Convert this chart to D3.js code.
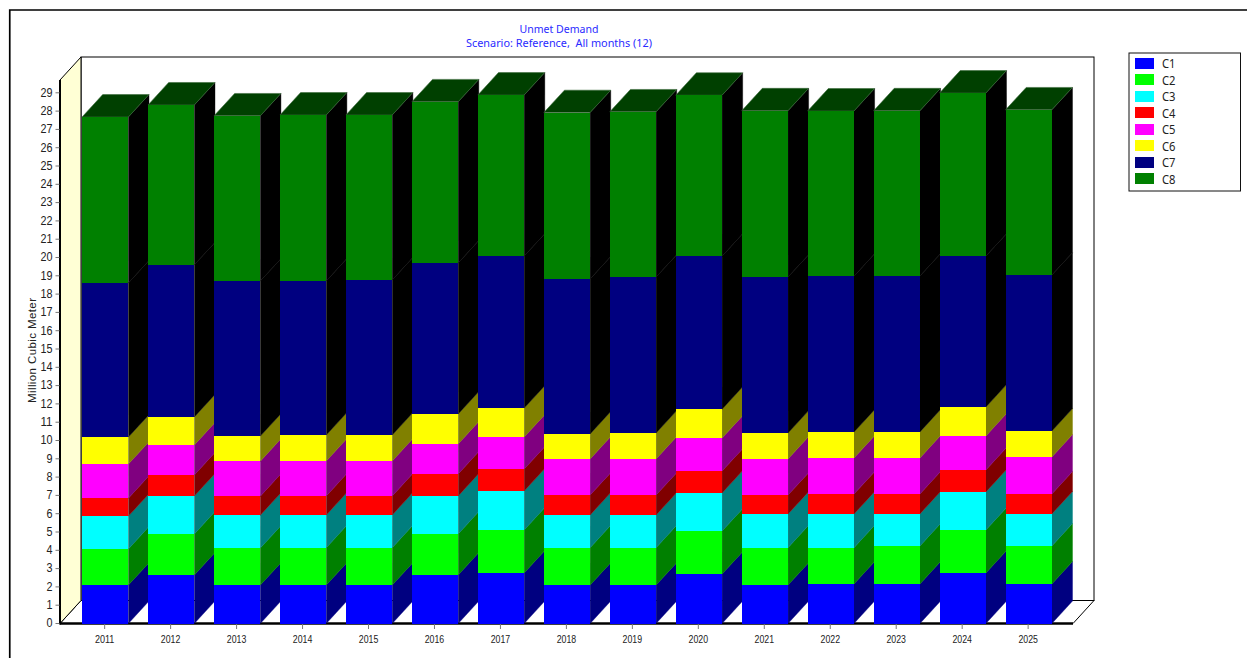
<!DOCTYPE html>
<html>
<head>
<meta charset="utf-8">
<script src="https://cdn.jsdelivr.net/npm/d3@7/dist/d3.min.js"></script>
<style>
html,body{margin:0;padding:0;background:#fff;overflow:hidden}
svg{display:block}
text{fill:#222}
</style>
</head>
<body>
<svg id="chart" width="1247" height="658"></svg>
<script>
const years = ["2011","2012","2013","2014","2015","2016","2017","2018","2019","2020","2021","2022","2023","2024","2025"];
const seriesNames = ["C1","C2","C3","C4","C5","C6","C7","C8"];
const frontColors = ["#0000ff","#00ff00","#00ffff","#ff0000","#ff00ff","#ffff00","#000080","#008000"];
const sideColors = ["#000080","#008000","#008080","#800000","#800080","#808000","#000000","#000000"];
const topColor = "#004000";
const yTicks = d3.range(0, 30);
const C1 = [2.10,2.65,2.10,2.10,2.10,2.65,2.76,2.10,2.10,2.70,2.10,2.16,2.16,2.76,2.16];
const C2 = [1.97,2.24,2.02,2.04,2.04,2.24,2.35,2.04,2.04,2.35,2.04,1.98,2.08,2.35,2.08];
const C3 = [1.80,2.08,1.80,1.79,1.79,2.08,2.13,1.79,1.79,2.08,1.84,1.84,1.75,2.08,1.75];
const C4 = [0.98,1.15,1.04,1.04,1.04,1.20,1.20,1.09,1.09,1.20,1.04,1.09,1.09,1.20,1.09];
const C5 = [1.86,1.64,1.91,1.91,1.91,1.64,1.75,1.97,1.97,1.80,1.97,1.97,1.97,1.86,2.02];
const C6 = [1.48,1.53,1.37,1.42,1.42,1.64,1.58,1.37,1.42,1.58,1.42,1.42,1.42,1.58,1.42];
const C7 = [8.42,8.31,8.47,8.42,8.47,8.25,8.31,8.47,8.52,8.36,8.52,8.52,8.52,8.25,8.52];
const C8 = [9.07,8.74,9.03,9.07,9.02,8.81,8.80,9.09,9.03,8.80,9.09,9.03,9.03,8.91,9.03];
const seriesValues = [C1,C2,C3,C4,C5,C6,C7,C8];

const svg = d3.select("#chart");
const fLeft = 60, fRight = 1073, fTop = 80, fBottom = 623.5, wallDx = 21, wallDy = 23, barDx = 20.6, barDy = 22.4;

const x = d3.scaleBand().domain(years).range([fLeft + 1, fRight]).paddingInner(0.298).paddingOuter(0.32);
const y = d3.scaleLinear().domain([0, 29.7]).range([fBottom, fTop]);
const poly = pts => pts.map(p => p.join(",")).join(" ");

// outer frame
svg.append("path").attr("d", "M9.75,658V10H1247").attr("fill", "none").attr("stroke", "#000").attr("stroke-width", 1.7);

// back wall, floor, left wall
svg.append("rect").attr("x", fLeft + wallDx).attr("y", fTop - wallDy).attr("width", fRight - fLeft).attr("height", fBottom - fTop)
  .attr("fill", "#fff").attr("stroke", "#000").attr("stroke-width", 1);
svg.append("polygon").attr("points", poly([[fLeft, fBottom],[fLeft + wallDx, fBottom - wallDy],[fRight + wallDx, fBottom - wallDy],[fRight, fBottom]]))
  .attr("fill", "#fff").attr("stroke", "#000").attr("stroke-width", 1);
svg.append("polygon").attr("points", poly([[fLeft, fTop],[fLeft + wallDx, fTop - wallDy],[fLeft + wallDx, fBottom - wallDy],[fLeft, fBottom]]))
  .attr("fill", "#ffffd5").attr("stroke", "#000").attr("stroke-width", 1);
svg.append("line").attr("x1", fLeft).attr("x2", fRight).attr("y1", fBottom).attr("y2", fBottom).attr("stroke", "#000").attr("stroke-width", 2.4);

// stacks
const stack = d3.stack().keys(d3.range(seriesNames.length)).value((d, k) => seriesValues[k][d]);
const stacked = stack(d3.range(years.length));
years.forEach((yr, i) => {
  const g = svg.append("g").attr("class", "bar");
  const x0 = x(yr), x1 = x0 + x.bandwidth();
  const segs = stacked.map((s, k) => ({k, a: s[i][0], b: s[i][1]}));
  g.selectAll("polygon.side").data(segs).join("polygon").attr("class", "side")
    .attr("points", d => poly([[x1, y(d.a)],[x1 + barDx, y(d.a) - barDy],[x1 + barDx, y(d.b) - barDy],[x1, y(d.b)]]))
    .attr("fill", d => sideColors[d.k]).attr("stroke", d => sideColors[d.k]).attr("stroke-width", 0.4);
  const last = segs[segs.length - 1];
  g.append("polygon")
    .attr("points", poly([[x0, y(last.b)],[x0 + barDx, y(last.b) - barDy],[x1 + barDx, y(last.b) - barDy],[x1, y(last.b)]]))
    .attr("fill", topColor).attr("stroke", "#3a6a3a").attr("stroke-width", 0.6);
  g.selectAll("rect").data(segs).join("rect")
    .attr("x", x0).attr("width", x.bandwidth())
    .attr("y", d => y(d.b)).attr("height", d => y(d.a) - y(d.b))
    .attr("fill", d => frontColors[d.k]).attr("shape-rendering", "crispEdges");
});

// left edge of the plot
svg.append("line").attr("x1", fLeft).attr("x2", fLeft).attr("y1", fTop).attr("y2", fBottom + 1).attr("stroke", "#000").attr("stroke-width", 2);

// axes
const yAxis = d3.axisLeft(y).tickValues(yTicks).tickSize(4).tickPadding(3).tickFormat(d3.format("d"));
const gy = svg.append("g").attr("transform", `translate(${fLeft - 0.5},-0.5)`).call(yAxis);
gy.select(".domain").remove();
gy.selectAll("line").attr("stroke", "#777");
gy.selectAll("text").attr("font-family", "Liberation Sans").attr("font-size", 12).attr("fill", "#222").attr("textLength", 12).attr("lengthAdjust", "spacingAndGlyphs");
gy.selectAll("text").filter(d => d < 10).attr("textLength", 6);

const xAxis = d3.axisBottom(x).tickSize(5).tickPadding(7);
const gx = svg.append("g").attr("transform", `translate(-0.6,${fBottom + 0.5})`).call(xAxis);
gx.select(".domain").remove();
gx.selectAll("line").attr("stroke", "#777");
gx.selectAll("text").attr("font-family", "Liberation Sans").attr("font-size", 10.5).attr("fill", "#222").attr("textLength", 19.5).attr("lengthAdjust", "spacingAndGlyphs");

// titles
const titles = ["Unmet Demand", "Scenario: Reference,  All months (12)"];
const titleLengths = [79, 186];
svg.selectAll("text.title").data(titles).join("text").attr("class", "title")
  .attr("x", 559).attr("y", (d, i) => 33 + i * 14)
  .attr("text-anchor", "middle").attr("xml:space", "preserve")
  .attr("font-family", "Noto Sans").attr("font-size", 11)
  .attr("textLength", (d, i) => titleLengths[i]).attr("lengthAdjust", "spacingAndGlyphs")
  .style("fill", "#2a2aff").style("white-space", "pre")
  .text(d => d);

// y axis title
svg.append("text").attr("transform", "translate(35.5,350.5) rotate(-90)").attr("text-anchor", "middle")
  .attr("font-family", "Liberation Sans").attr("font-size", 11.5).attr("textLength", 105)
  .attr("lengthAdjust", "spacing").text("Million Cubic Meter");

// legend
const legendY = d3.scalePoint().domain(seriesNames).range([63, 178.5]);
svg.append("rect").attr("x", 1129).attr("y", 53).attr("width", 111.5).attr("height", 138)
  .attr("fill", "#fff").attr("stroke", "#111").attr("stroke-width", 1);
const lg = svg.selectAll("g.legend").data(seriesNames).join("g").attr("class", "legend")
  .attr("transform", d => `translate(0,${legendY(d)})`);
lg.append("rect").attr("x", 1135).attr("y", -5.5).attr("width", 19).attr("height", 11)
  .attr("fill", (d, i) => frontColors[i]).attr("shape-rendering", "crispEdges");
lg.append("text").attr("x", 1162).attr("y", 5).attr("font-family", "Noto Sans").attr("font-size", 13)
  .attr("textLength", 13.5).attr("lengthAdjust", "spacingAndGlyphs").text(d => d);
</script>
</body>
</html>
